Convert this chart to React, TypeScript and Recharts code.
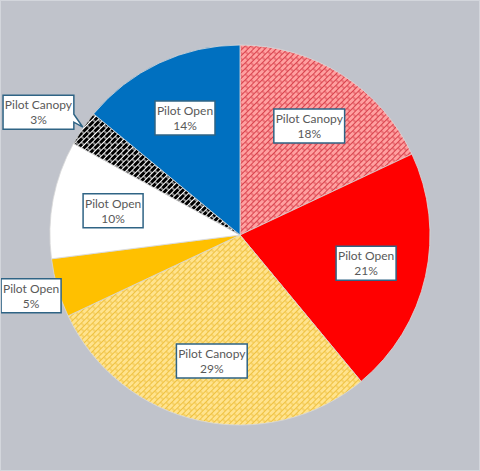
import React from 'react';
import { PieChart, Pie, Cell } from 'recharts';

const names = ['Pilot Canopy', 'Pilot Open', 'Pilot Canopy', 'Pilot Open', 'Pilot Open', 'Pilot Canopy', 'Pilot Open'];
const values = [18, 21, 29, 5, 10, 3, 14];
const fills = ['url(#pinkBrick)', '#FF0000', 'url(#yellowBrick)', '#FFC000', '#FFFFFF', 'url(#blackBrick)', '#0070C0'];

const data = names.map((name, i) => ({ name, value: values[i] }));

const RAD = Math.PI / 180;

const BrickPattern = ({ id, bg, line, w }: { id: string; bg: string; line: string; w: number }) => (
  <pattern id={id} patternUnits="userSpaceOnUse" width={8} height={8} patternTransform="rotate(-45)">
    <rect x={0} y={0} width={8} height={8} fill={bg} />
    <line x1={0} y1={0.5} x2={8} y2={0.5} stroke={line} strokeWidth={w} />
    <line x1={0} y1={4.5} x2={8} y2={4.5} stroke={line} strokeWidth={w} />
    <line x1={1} y1={0.5} x2={1} y2={4.5} stroke={line} strokeWidth={w} />
    <line x1={5} y1={4.5} x2={5} y2={8.5} stroke={line} strokeWidth={w} />
  </pattern>
);

const FONT = "Lato, 'Open Sans', sans-serif";

const renderLabel = (props: any) => {
  const { cx, cy, midAngle, outerRadius, percent, name } = props;
  const pct = Math.round(percent * 100);
  const w = name.length * 5.4 + 6;
  const h = 34;
  const isCallout = percent < 0.04;
  const tx = cx + outerRadius * Math.cos(-midAngle * RAD);
  const ty = cy + outerRadius * Math.sin(-midAngle * RAD);
  let x: number;
  let y: number;
  if (isCallout) {
    x = tx - 9 - w / 2;
    y = ty + 1 - h / 2;
  } else {
    const factor = percent < 0.07 ? 1.145 : 0.68;
    const r = outerRadius * factor;
    x = cx + r * Math.cos(-midAngle * RAD);
    y = cy + r * Math.sin(-midAngle * RAD);
  }
  const left = x - w / 2;
  const top = y - h / 2;
  let path = `M${left},${top} H${left + w} V${top + h} H${left} Z`;
  if (isCallout) {
    const right = left + w;
    path = `M${left},${top} H${right} V${top + 19} L${tx},${ty - 1} L${right},${top + 27} V${top + h} H${left} Z`;
  }
  return (
    <g>
      <path d={path} fill="#FFFFFF" stroke="#2F6485" strokeWidth={1.5} />
      <text x={x} y={y - 3} textAnchor="middle" fontSize={12} fill="#595959" fontFamily={FONT}>
        {name}
      </text>
      <text x={x} y={y + 12} textAnchor="middle" fontSize={12} fill="#595959" fontFamily={FONT}>
        {pct}%
      </text>
    </g>
  );
};

export default function App() {
  return (
    <div
      style={{
        position: 'fixed',
        left: 0,
        top: 0,
        width: 480,
        height: 471,
        background: '#C0C3CB',
        boxSizing: 'border-box',
        border: '1px solid #D3D6DC',
      }}
    >
      <svg width={0} height={0} style={{ position: 'absolute' }}>
        <defs>
          <BrickPattern id="pinkBrick" bg="#FFA0A0" line="#D9434E" w={1} />
          <BrickPattern id="yellowBrick" bg="#FFE38E" line="#EFC241" w={1} />
          <BrickPattern id="blackBrick" bg="#000000" line="#FFFFFF" w={1} />
        </defs>
      </svg>
      <PieChart width={478} height={469} margin={{ top: 0, right: 0, bottom: 0, left: 0 }}>
        <Pie
          data={data}
          dataKey="value"
          nameKey="name"
          cx={239}
          cy={234}
          outerRadius={190}
          startAngle={90}
          endAngle={-270}
          stroke="#D9D9D9"
          strokeWidth={0.8}
          label={renderLabel}
          labelLine={false}
          isAnimationActive={false}
        >
          {data.map((d, i) => (
            <Cell key={i} fill={fills[i]} />
          ))}
        </Pie>
      </PieChart>
    </div>
  );
}
